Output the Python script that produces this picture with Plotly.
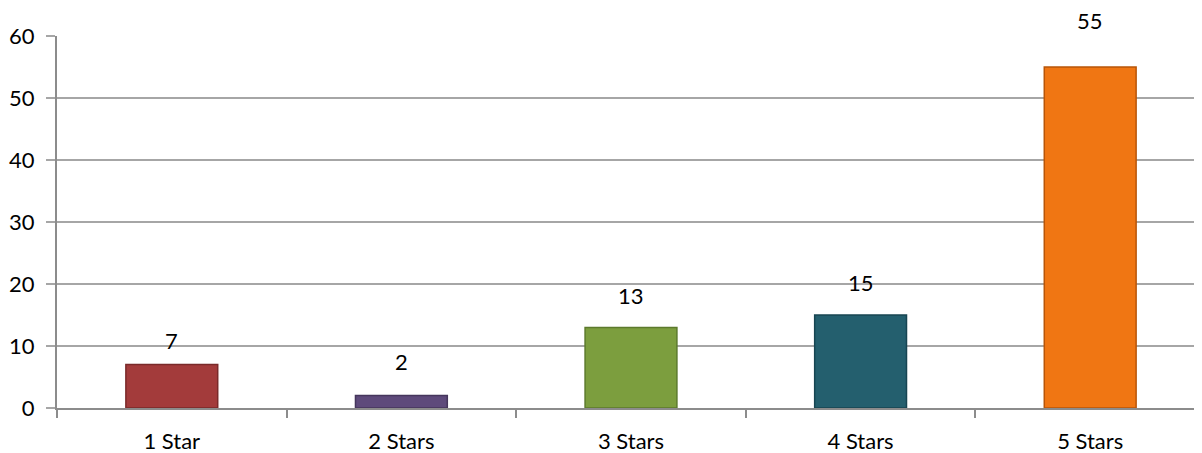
import plotly.graph_objects as go

categories = ["1 Star", "2 Stars", "3 Stars", "4 Stars", "5 Stars"]
values = [7, 2, 13, 15, 55]
colors = ["#A33B3B", "#5E4A7B", "#7C9E3E", "#245F6E", "#F07613"]
edge_colors = ["#7A2A2A", "#45365C", "#5C7A2C", "#174552", "#B85508"]
y_ticks = [0, 10, 20, 30, 40, 50, 60]

# pixel lift of each value label above its bar (label placement style)
label_lift = [9, 19, 16, 17, 31]

FONT = "Lato"
FS = 22

fig = go.Figure()
fig.add_trace(go.Bar(
    x=categories, y=values,
    marker=dict(color=colors, line=dict(color=edge_colors, width=1.5)),
    width=0.4,
    hoverinfo="x+y",
))

for c, v, s in zip(categories, values, label_lift):
    fig.add_annotation(x=c, y=v, text=str(v), showarrow=False,
                       yanchor="bottom", yshift=s,
                       font=dict(family=FONT, size=FS, color="#000000"))

fig.update_layout(
    width=1194, height=445,
    margin=dict(l=49, r=0, t=28, b=45, autoexpand=False),
    paper_bgcolor="white", plot_bgcolor="white",
    showlegend=False,
    font=dict(family=FONT, size=FS, color="#000000"),
    bargap=0.6,
)
fig.update_xaxes(
    type="category", range=[-0.5, 4.487],
    showline=True, linecolor="#8C8C8C", linewidth=2,
    ticks="outside", tickson="boundaries", ticklen=8, tickcolor="#8C8C8C", tickwidth=1.5,
    showgrid=False, tickfont=dict(family=FONT, size=FS),
    ticklabelstandoff=13, automargin=False,
)
fig.update_yaxes(
    range=[0, 60], tickvals=y_ticks,
    showline=True, linecolor="#8C8C8C", linewidth=2,
    ticks="outside", ticklen=9, tickcolor="#A6A6A6", tickwidth=2,
    showgrid=True, gridcolor="#A6A6A6", gridwidth=2,
    zeroline=False, tickfont=dict(family=FONT, size=FS),
    ticklabelstandoff=7, automargin=False,
)

fig.write_html("out.html")
